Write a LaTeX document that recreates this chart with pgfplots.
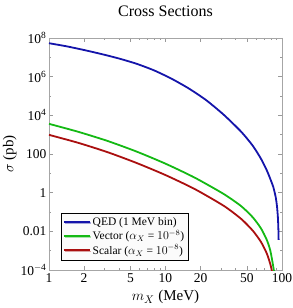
\documentclass[border=0pt]{standalone}
\usepackage{pgfplots}
\pgfplotsset{compat=1.18}
\usetikzlibrary{shadows}
\usepackage{fontspec}
\setmainfont{Liberation Serif}
\definecolor{qedblue}{RGB}{20,20,170}
\definecolor{vecgreen}{RGB}{20,185,20}
\definecolor{scared}{RGB}{170,15,15}
\begin{document}
\begin{tikzpicture}
\useasboundingbox (-49pt,-38pt) rectangle (243pt,270pt);
\begin{axis}[
  at={(0,0)}, anchor=south west,
  scale only axis, width=233pt, height=232pt,
  xmode=log, ymode=log,
  xmin=1, xmax=100, ymin=1e-4, ymax=1e8,
  axis line style={gray!70, line width=0.6pt},
  tick style={gray!80, line width=0.4pt},
  tick align=inside,
  major tick length=4pt, minor tick length=2pt,
  xtick={1,2,5,10,20,50,100},
  xticklabels={1,2,5,10,20,50,100},
  minor xtick={3,4,6,7,8,9,30,40,60,70,80,90},
  ytick={1e-4,1e-2,1,1e2,1e4,1e6,1e8},
  yticklabels={10\textsuperscript{$-$4},0.01,1,100,10\textsuperscript{4},10\textsuperscript{6},10\textsuperscript{8}},
  minor ytick={1e-3,1e-1,10,1e3,1e5,1e7},
  ticklabel style={font=\fontsize{13.5}{14}\selectfont},
  yticklabel style={xshift=1pt},
  title={Cross Sections},
  title style={font=\fontsize{16}{17}\selectfont, yshift=12pt},
  xlabel={$m_X$ (MeV)},
  ylabel={$\sigma$ (pb)},
  label style={font=\fontsize{15}{16}\selectfont},
  xlabel style={yshift=-1pt},
  ylabel style={yshift=-3pt},
  legend style={at={(0.05,0.043)}, anchor=south west, font=\fontsize{11.5}{12}\selectfont,
    draw=black, line width=0.5pt, fill=gray!3, row sep=-0.5pt, inner sep=2pt,
    drop shadow={shadow xshift=1.2pt, shadow yshift=-1.2pt, opacity=0.35}},
  legend image code/.code={\draw[#1] (0pt,0pt) -- (26pt,0pt);},
  legend cell align=left,
  every axis plot/.append style={line width=1.8pt, smooth, tension=0.4},
]
\addplot[qedblue] coordinates {
 (1,5.37e7) (1.413,3.72e7) (1.995,2.40e7) (2.818,1.48e7) (3.981,8.71e6) (5.623,4.68e6)
 (7.943,2.14e6) (11.22,7.94e5) (15.85,2.45e5) (22.39,6.03e4) (31.62,1.07e4) (44.67,1.41e3)
 (56.23,263) (66.07,56.2) (74.13,14.1) (81.28,3.55) (84.14,2.0) (88.1,0.631)
 (90.57,0.2) (92.26,0.0501) (93.11,0.0126) (93.54,0.00363)};
\addlegendentry{QED (1 MeV bin)}
\addplot[vecgreen] coordinates {
 (1,3631) (1.778,1413) (3.162,479) (5.623,135) (10,31.6) (17.78,6.03) (31.62,0.851)
 (44.67,0.2) (56.23,0.0525) (66.07,0.0141) (74.13,3.55e-3) (79.43,1e-3) (84.14,1.51e-4) (87.1,4e-5)};
\addlegendentry{Vector ($\alpha_X$ = $10^{-8}$)}
\addplot[scared] coordinates {
 (1,977) (1.778,380) (3.162,126) (5.623,34.7) (10,8.13) (17.78,1.55) (31.62,0.209)
 (44.67,0.0437) (56.23,0.0107) (66.07,2.82e-3) (74.13,7.08e-4) (79.43,2.0e-4) (82.22,7.9e-5) (84.14,3.2e-5)};
\addlegendentry{Scalar ($\alpha_X$ = $10^{-8}$)}
\end{axis}
\end{tikzpicture}
\end{document}
